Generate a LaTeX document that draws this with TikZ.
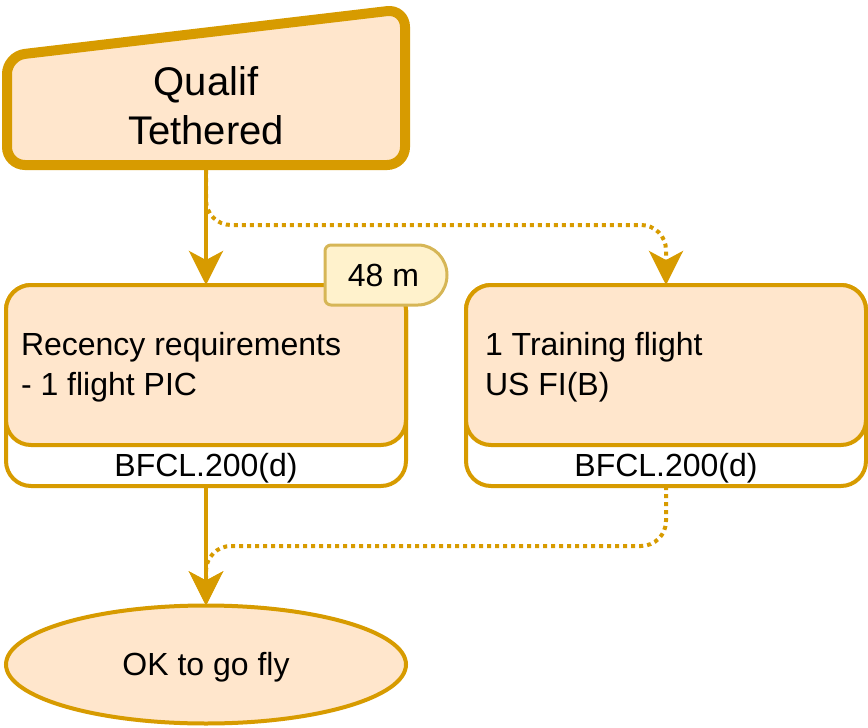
\documentclass[tikz,border=0pt]{standalone}
\usepackage{fontspec}
\setmainfont{Liberation Sans}
\usetikzlibrary{arrows.meta,shapes.geometric,calc}
\definecolor{ostroke}{HTML}{D79B00}
\definecolor{ofill}{HTML}{FFE6CC}
\definecolor{ystroke}{HTML}{D6B656}
\definecolor{yfill}{HTML}{FFF2CC}
\begin{document}
\begin{tikzpicture}[x=1pt,y=1pt,
  conn/.style={draw=ostroke, line width=4pt, -{Stealth[length=34pt,width=34pt,inset=9pt]}},
  dotconn/.style={conn, dash pattern=on 4pt off 4pt, rounded corners=25pt},
  boxouter/.style={draw=ostroke, line width=4pt, fill=white, rounded corners=25pt,
    minimum width=400pt, minimum height=201pt, inner sep=0pt, outer sep=0pt},
  boxinner/.style={draw=ostroke, fill=ofill, line width=4pt, rounded corners=25pt},
  bodytext/.style={inner sep=0pt, outer sep=0pt, align=left,
    font=\fontsize{32}{40}\selectfont},
  titletext/.style={inner sep=0pt, align=center, font=\fontsize{40}{49}\selectfont},
  tagshape/.style={draw=ystroke, fill=yfill, line width=3pt},
  endnode/.style={draw=ostroke, fill=ofill, line width=4pt, ellipse, inner sep=0pt,
    outer sep=0pt, minimum width=400pt, minimum height=118pt,
    text height=22pt, text depth=0pt, font=\fontsize{32}{40}\selectfont}
]
\useasboundingbox (0,0) rectangle (868,-728);

% top manual input shape
\filldraw[draw=ostroke, fill=ofill, line width=10pt, rounded corners=18pt]
  (206,-165) -- (7,-165) -- (7,-56) -- (405,-9) -- (405,-165) -- cycle;
\node[titletext] (top) at (206,-106) {Qualif\\Tethered};
\coordinate (topS) at (206,-170);

% left box
\node[boxouter] (rec) at (206,-385.5) {};
\draw[boxinner] (rec.north west) rectangle ($(rec.north east)+(0,-160)$);
\node[bodytext, anchor=base west] (rectext) at (21,-395) {Recency requirements\\- 1 flight PIC};
\node[bodytext, anchor=base] (reclabel) at (206,-476) {BFCL.200(d)};

% right box
\node[boxouter] (tr) at (666,-385.5) {};
\draw[boxinner] (tr.north west) rectangle ($(tr.north east)+(0,-160)$);
\node[bodytext, anchor=base west] (trtext) at (485,-395) {1 Training flight\\US FI(B)};
\node[bodytext, anchor=base] (trlabel) at (666,-476) {BFCL.200(d)};

% tag
\draw[tagshape] (418,-245) arc[start angle=90, end angle=-90, x radius=29pt, y radius=30pt]
  -- (331,-305) arc[start angle=270, end angle=180, radius=6pt]
  -- (325,-251) arc[start angle=180, end angle=90, radius=6pt] -- cycle;
\node[bodytext, anchor=base] (tag) at (383.5,-286) {48 m};

% end node
\node[endnode] (ok) at (206,-664.5) {OK to go fly};

% connectors
\draw[conn] (topS) -- (rec.north);
\draw[dotconn] (topS) -- ++(0,-55) -| (tr.north);
\draw[conn] (rec.south) -- (ok.north);
\draw[dotconn] (tr.south) -- ++(0,-60) -| (ok.north);
\end{tikzpicture}
\end{document}
